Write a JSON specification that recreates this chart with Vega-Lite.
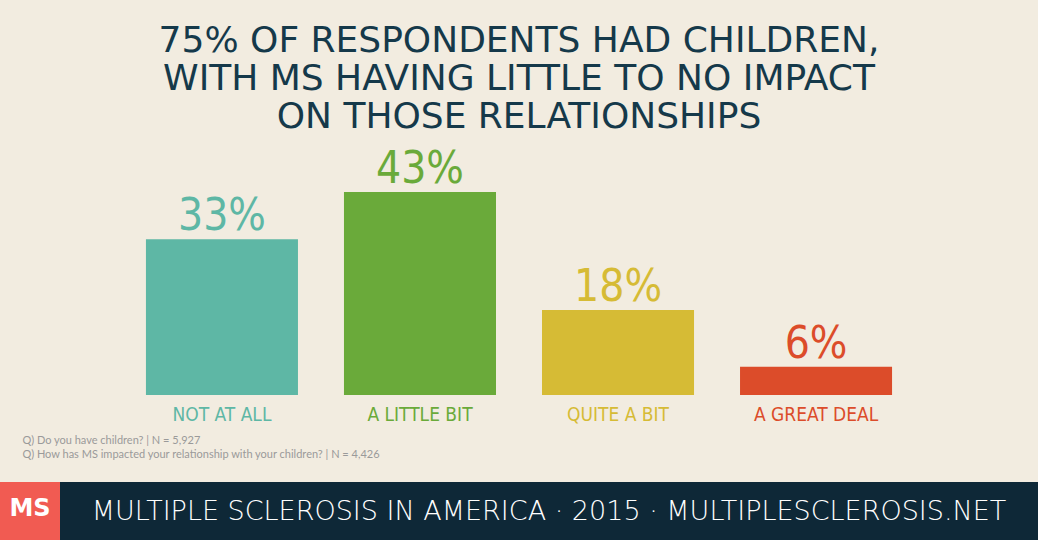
{
  "$schema": "https://vega.github.io/schema/vega-lite/v6.json",
  "background": "#f2ece0",
  "padding": {"top": 22, "left": 0, "right": 0, "bottom": 0},
  "bounds": "flush",
  "spacing": 87,
  "config": {"view": {"stroke": null}},
  "vconcat": [
    {
      "width": 1038,
      "height": 237,
      "title": {
        "text": ["75% OF RESPONDENTS HAD CHILDREN,", "WITH MS HAVING LITTLE TO NO IMPACT", "ON THOSE RELATIONSHIPS"],
        "font": "DejaVu Sans",
        "fontSize": 36,
        "fontWeight": "normal",
        "lineHeight": 38,
        "color": "#15394a",
        "anchor": "middle",
        "offset": 12
      },
      "data": {"values": [
        {"answer": "NOT AT ALL", "pct": 33, "label": "33%"},
        {"answer": "A LITTLE BIT", "pct": 43, "label": "43%"},
        {"answer": "QUITE A BIT", "pct": 18, "label": "18%"},
        {"answer": "A GREAT DEAL", "pct": 6, "label": "6%"}
      ]},
      "encoding": {
        "x": {
          "field": "answer",
          "type": "nominal",
          "sort": null,
          "scale": {"paddingInner": 0.2323, "paddingOuter": 0.737},
          "axis": {
            "title": ["Q) Do you have children? | N = 5,927", "Q) How has MS impacted your relationship with your children? | N = 4,426"],
            "titleFont": "Lato",
            "titleFontSize": 11,
            "titleFontWeight": "normal",
            "titleColor": "#9a9a9a",
            "titleAnchor": "start",
            "titleAlign": "left",
            "titleBaseline": "top",
            "titleX": 22,
            "titleY": 39,
            "titleLineHeight": 14,
            "domain": false,
            "ticks": false,
            "grid": false,
            "labelAngle": 0,
            "labelFont": "DejaVu Sans Condensed, Liberation Sans Narrow, Roboto Condensed, sans-serif",
            "labelFontSize": 19,
            "labelPadding": 10,
            "labelColor": {"condition": [
              {"test": "datum.value == 'NOT AT ALL'", "value": "#5eb7a5"},
              {"test": "datum.value == 'A LITTLE BIT'", "value": "#6aaa3a"},
              {"test": "datum.value == 'QUITE A BIT'", "value": "#d6bb35"}
            ], "value": "#dc4c2a"}
          }
        },
        "color": {
          "field": "answer",
          "type": "nominal",
          "sort": null,
          "scale": {"domain": ["NOT AT ALL", "A LITTLE BIT", "QUITE A BIT", "A GREAT DEAL"], "range": ["#5eb7a5", "#6aaa3a", "#d6bb35", "#dc4c2a"]},
          "legend": null
        }
      },
      "layer": [
        {
          "mark": {"type": "bar"},
          "encoding": {
            "y": {"field": "pct", "type": "quantitative", "scale": {"domain": [0, 50.2]}, "axis": null}
          }
        },
        {
          "mark": {"type": "text", "baseline": "alphabetic", "dy": -9, "font": "DejaVu Sans Condensed, Liberation Sans Narrow, Roboto Condensed, sans-serif", "fontSize": 44},
          "encoding": {
            "y": {"field": "pct", "type": "quantitative", "scale": {"domain": [0, 50.2]}, "axis": null},
            "text": {"field": "label"}
          }
        }
      ]
    },
    {
      "bounds": "flush",
      "spacing": 0,
      "hconcat": [
        {
          "width": 60,
          "height": 60,
          "view": {"fill": "#f15b52", "stroke": null},
          "data": {"values": [{"logo": "MS"}]},
          "mark": {"type": "text", "font": "DejaVu Sans", "fontWeight": "bold", "fontSize": 24, "color": "#ffffff", "baseline": "middle", "dy": -3},
          "encoding": {"text": {"field": "logo"}}
        },
        {
          "width": 978,
          "height": 60,
          "view": {"fill": "#0e2837", "stroke": null},
          "data": {"values": [{"footer": "MULTIPLE SCLEROSIS IN AMERICA · 2015 · MULTIPLESCLEROSIS.NET"}]},
          "mark": {"type": "text", "font": "DejaVu Sans", "fontWeight": 200, "fontSize": 27, "color": "#ffffff", "baseline": "middle"},
          "encoding": {"text": {"field": "footer"}}
        }
      ]
    }
  ]
}
